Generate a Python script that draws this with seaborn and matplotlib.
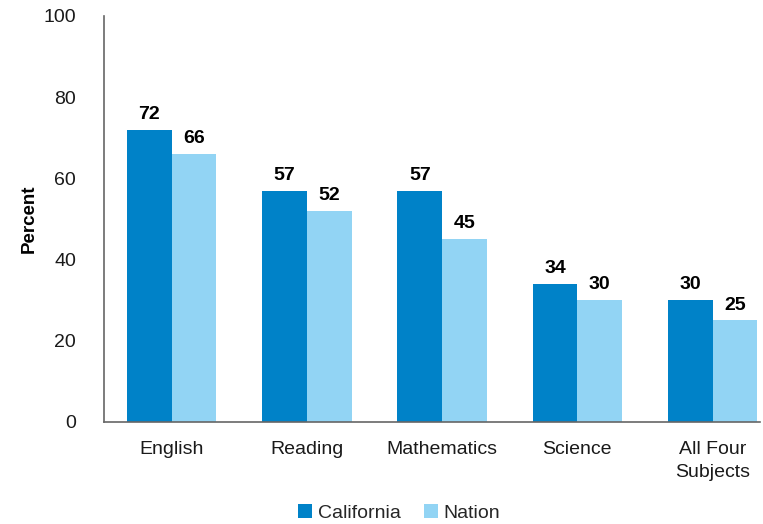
import pandas as pd
import matplotlib.pyplot as plt
import seaborn as sns

# values
subjects = ['English', 'Reading', 'Mathematics', 'Science', 'All Four\nSubjects']
california = [72, 57, 57, 34, 30]
nation = [66, 52, 45, 30, 25]
groups = ['California', 'Nation']
colors = ['#0082C8', '#92D4F4']

df = pd.DataFrame({
    'Subject': subjects * 2,
    'Group': ['California'] * len(subjects) + ['Nation'] * len(subjects),
    'Percent': california + nation,
})

sns.set_style('white')
plt.rcParams['font.family'] = ['Liberation Sans', 'DejaVu Sans']

fig = plt.figure(figsize=(7.63, 5.24), dpi=100)
ax = fig.add_axes([0.1363, 0.1947, 0.8597, 0.7748])

sns.barplot(data=df, x='Subject', y='Percent', hue='Group', order=subjects,
            hue_order=groups, palette=colors, width=0.66, saturation=1,
            edgecolor='none', ax=ax)

for cont in ax.containers:
    ax.bar_label(cont, fmt='%d', padding=5, fontsize=14, fontweight='bold',
                 color='black')

ax.set_ylim(0, 100)
ax.set_xlim(-0.5, 4.35)
ax.set_yticks([0, 20, 40, 60, 80, 100])
ax.tick_params(axis='both', length=0, labelsize=14, colors='#1a1a1a')
ax.tick_params(axis='y', pad=20)
ax.tick_params(axis='x', pad=14)
for lbl in ax.get_xticklabels():
    lbl.set_linespacing(1.45)
ax.set_xlabel('')
ax.set_ylabel('Percent', fontsize=13.5, fontweight='bold', labelpad=4,
              color='black')

for s in ['top', 'right']:
    ax.spines[s].set_visible(False)
for s in ['left', 'bottom']:
    ax.spines[s].set_color('#666666')
    ax.spines[s].set_linewidth(1.2)

leg = ax.legend(loc='upper center', bbox_to_anchor=(0.45, -0.16), ncol=2,
                frameon=False, fontsize=14, handlelength=0.7, handleheight=0.7,
                handletextpad=0.3, columnspacing=1.2)

fig.savefig('out.png', dpi=100)
